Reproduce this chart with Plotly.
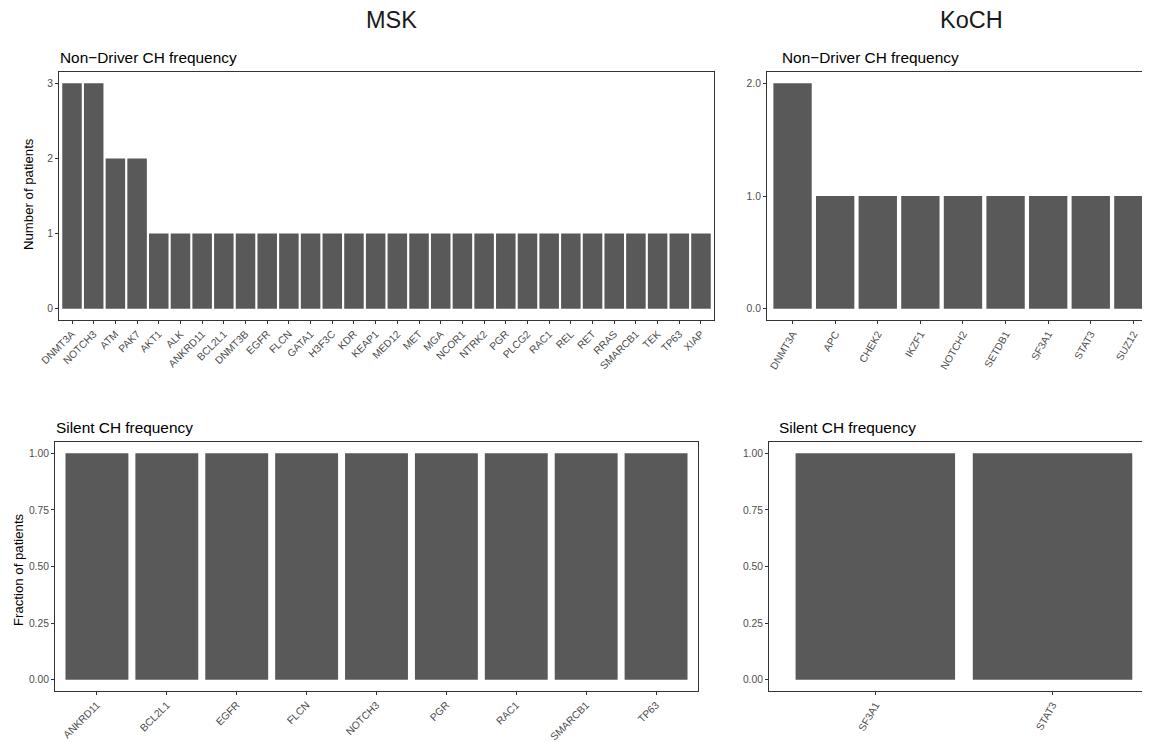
import plotly.graph_objects as go

# ---------------- data ----------------
msk_nondriver_genes = ["DNMT3A", "NOTCH3", "ATM", "PAK7", "AKT1", "ALK", "ANKRD11", "BCL2L1",
                       "DNMT3B", "EGFR", "FLCN", "GATA1", "H3F3C", "KDR", "KEAP1", "MED12",
                       "MET", "MGA", "NCOR1", "NTRK2", "PGR", "PLCG2", "RAC1", "REL", "RET",
                       "RRAS", "SMARCB1", "TEK", "TP63", "XIAP"]
msk_nondriver_counts = [3, 3, 2, 2, 1, 1, 1, 1, 1, 1, 1, 1, 1, 1, 1, 1,
                        1, 1, 1, 1, 1, 1, 1, 1, 1, 1, 1, 1, 1, 1]

koch_nondriver_genes = ["DNMT3A", "APC", "CHEK2", "IKZF1", "NOTCH2", "SETDB1", "SF3A1", "STAT3", "SUZ12"]
koch_nondriver_counts = [2, 1, 1, 1, 1, 1, 1, 1, 1]

msk_silent_genes = ["ANKRD11", "BCL2L1", "EGFR", "FLCN", "NOTCH3", "PGR", "RAC1", "SMARCB1", "TP63"]
msk_silent_frac = [1, 1, 1, 1, 1, 1, 1, 1, 1]

koch_silent_genes = ["SF3A1", "STAT3"]
koch_silent_frac = [1, 1]

top_ticks_msk = [0, 1, 2, 3]
top_ticks_koch = [0, 1, 2]
frac_ticks = [0, 0.25, 0.5, 0.75, 1.0]

# ---------------- layout helpers ----------------
OFF = 8                      # page body margin
W, H = 1150 - OFF, 742 - OFF
BAR = "#595959"
LINE = "#333333"
FONT = "Liberation Sans, Arial, sans-serif"
TICKF = dict(family=FONT, size=10.3, color="#4D4D4D")

def px(x):
    return (x - OFF) / W

def py(y):
    return 1 - (y - OFF) / H

fig = go.Figure()

panels = [
    ("1", msk_nondriver_genes, msk_nondriver_counts, (59, 714), (72, 320), [-0.6, 29.6], [-0.15, 3.15], top_ticks_msk, "d", -45, True),
    ("2", koch_nondriver_genes, koch_nondriver_counts, (767, 1150), (72, 320), [-0.6, 8.39], [-0.1, 2.1], top_ticks_koch, ".1f", -60, False),
    ("3", msk_silent_genes, msk_silent_frac, (55, 698), (442, 691), [-0.6, 8.6], [-0.05, 1.05], frac_ticks, ".2f", -45, True),
    ("4", koch_silent_genes, koch_silent_frac, (769, 1150), (442, 691), [-0.6, 1.55], [-0.05, 1.05], frac_ticks, ".2f", -60, False),
]

for name, genes, vals, xd, yd, xr, yr, yt, fmt, ang, box in panels:
    xa = "x" if name == "1" else "x" + name
    ya = "y" if name == "1" else "y" + name
    fig.add_trace(go.Bar(x=list(range(len(genes))), y=vals, marker=dict(color=BAR, line=dict(width=0)),
                         xaxis=xa, yaxis=ya, showlegend=False, width=0.9, hoverinfo="skip",
                         hovertext=genes))
    xkey = "xaxis" if name == "1" else "xaxis" + name
    ykey = "yaxis" if name == "1" else "yaxis" + name
    fig.update_layout(**{
        xkey: dict(domain=[px(xd[0]), min(1.0, px(xd[1]))], range=xr, anchor=ya,
                   tickmode="array", tickvals=list(range(len(genes))), ticktext=genes,
                   tickangle=ang, tickfont=TICKF, ticks="outside", ticklen=3, tickcolor=LINE,
                   showline=True, linecolor=LINE, linewidth=1, mirror=True,
                   showgrid=False, zeroline=False, fixedrange=True, automargin=False),
        ykey: dict(domain=[py(yd[1]), py(yd[0])], range=yr, anchor=xa,
                   tickmode="array", tickvals=yt,
                   ticktext=[format(v, fmt) if fmt != "d" else str(int(v)) for v in yt],
                   tickfont=TICKF, ticks="outside", ticklen=3, tickcolor=LINE,
                   showline=True, linecolor=LINE, linewidth=1, mirror=box,
                   showgrid=False, zeroline=False, fixedrange=True, automargin=False),
    })

annotations = [
    dict(text="MSK", x=px(391), y=py(20), font=dict(family=FONT, size=23.5, color="#1A1A1A")),
    dict(text="KoCH", x=px(971), y=py(20), font=dict(family=FONT, size=23.5, color="#1A1A1A")),
    dict(text="Non\u2212Driver CH frequency", x=px(58), y=py(57), xanchor="left",
         font=dict(family=FONT, size=15.4, color="black")),
    dict(text="Non\u2212Driver CH frequency", x=px(780), y=py(57), xanchor="left",
         font=dict(family=FONT, size=15.4, color="black")),
    dict(text="Silent CH frequency", x=px(54), y=py(427), xanchor="left",
         font=dict(family=FONT, size=15.4, color="black")),
    dict(text="Silent CH frequency", x=px(777), y=py(427), xanchor="left",
         font=dict(family=FONT, size=15.4, color="black")),
    dict(text="Number of patients", x=px(28), y=py(194), textangle=-90,
         font=dict(family=FONT, size=13.2, color="black")),
    dict(text="Fraction of patients", x=px(18), y=py(570), textangle=-90,
         font=dict(family=FONT, size=13.2, color="black")),
]
for a in annotations:
    a.update(xref="paper", yref="paper", showarrow=False)
    a.setdefault("xanchor", "center")
    a["yanchor"] = "middle"

fig.update_layout(width=W, height=H, margin=dict(l=0, r=0, t=0, b=0, autoexpand=False),
                  paper_bgcolor="white", plot_bgcolor="white", bargap=0.1,
                  annotations=annotations, font=dict(family=FONT))

fig.write_html("out.html", config={"displayModeBar": False})
